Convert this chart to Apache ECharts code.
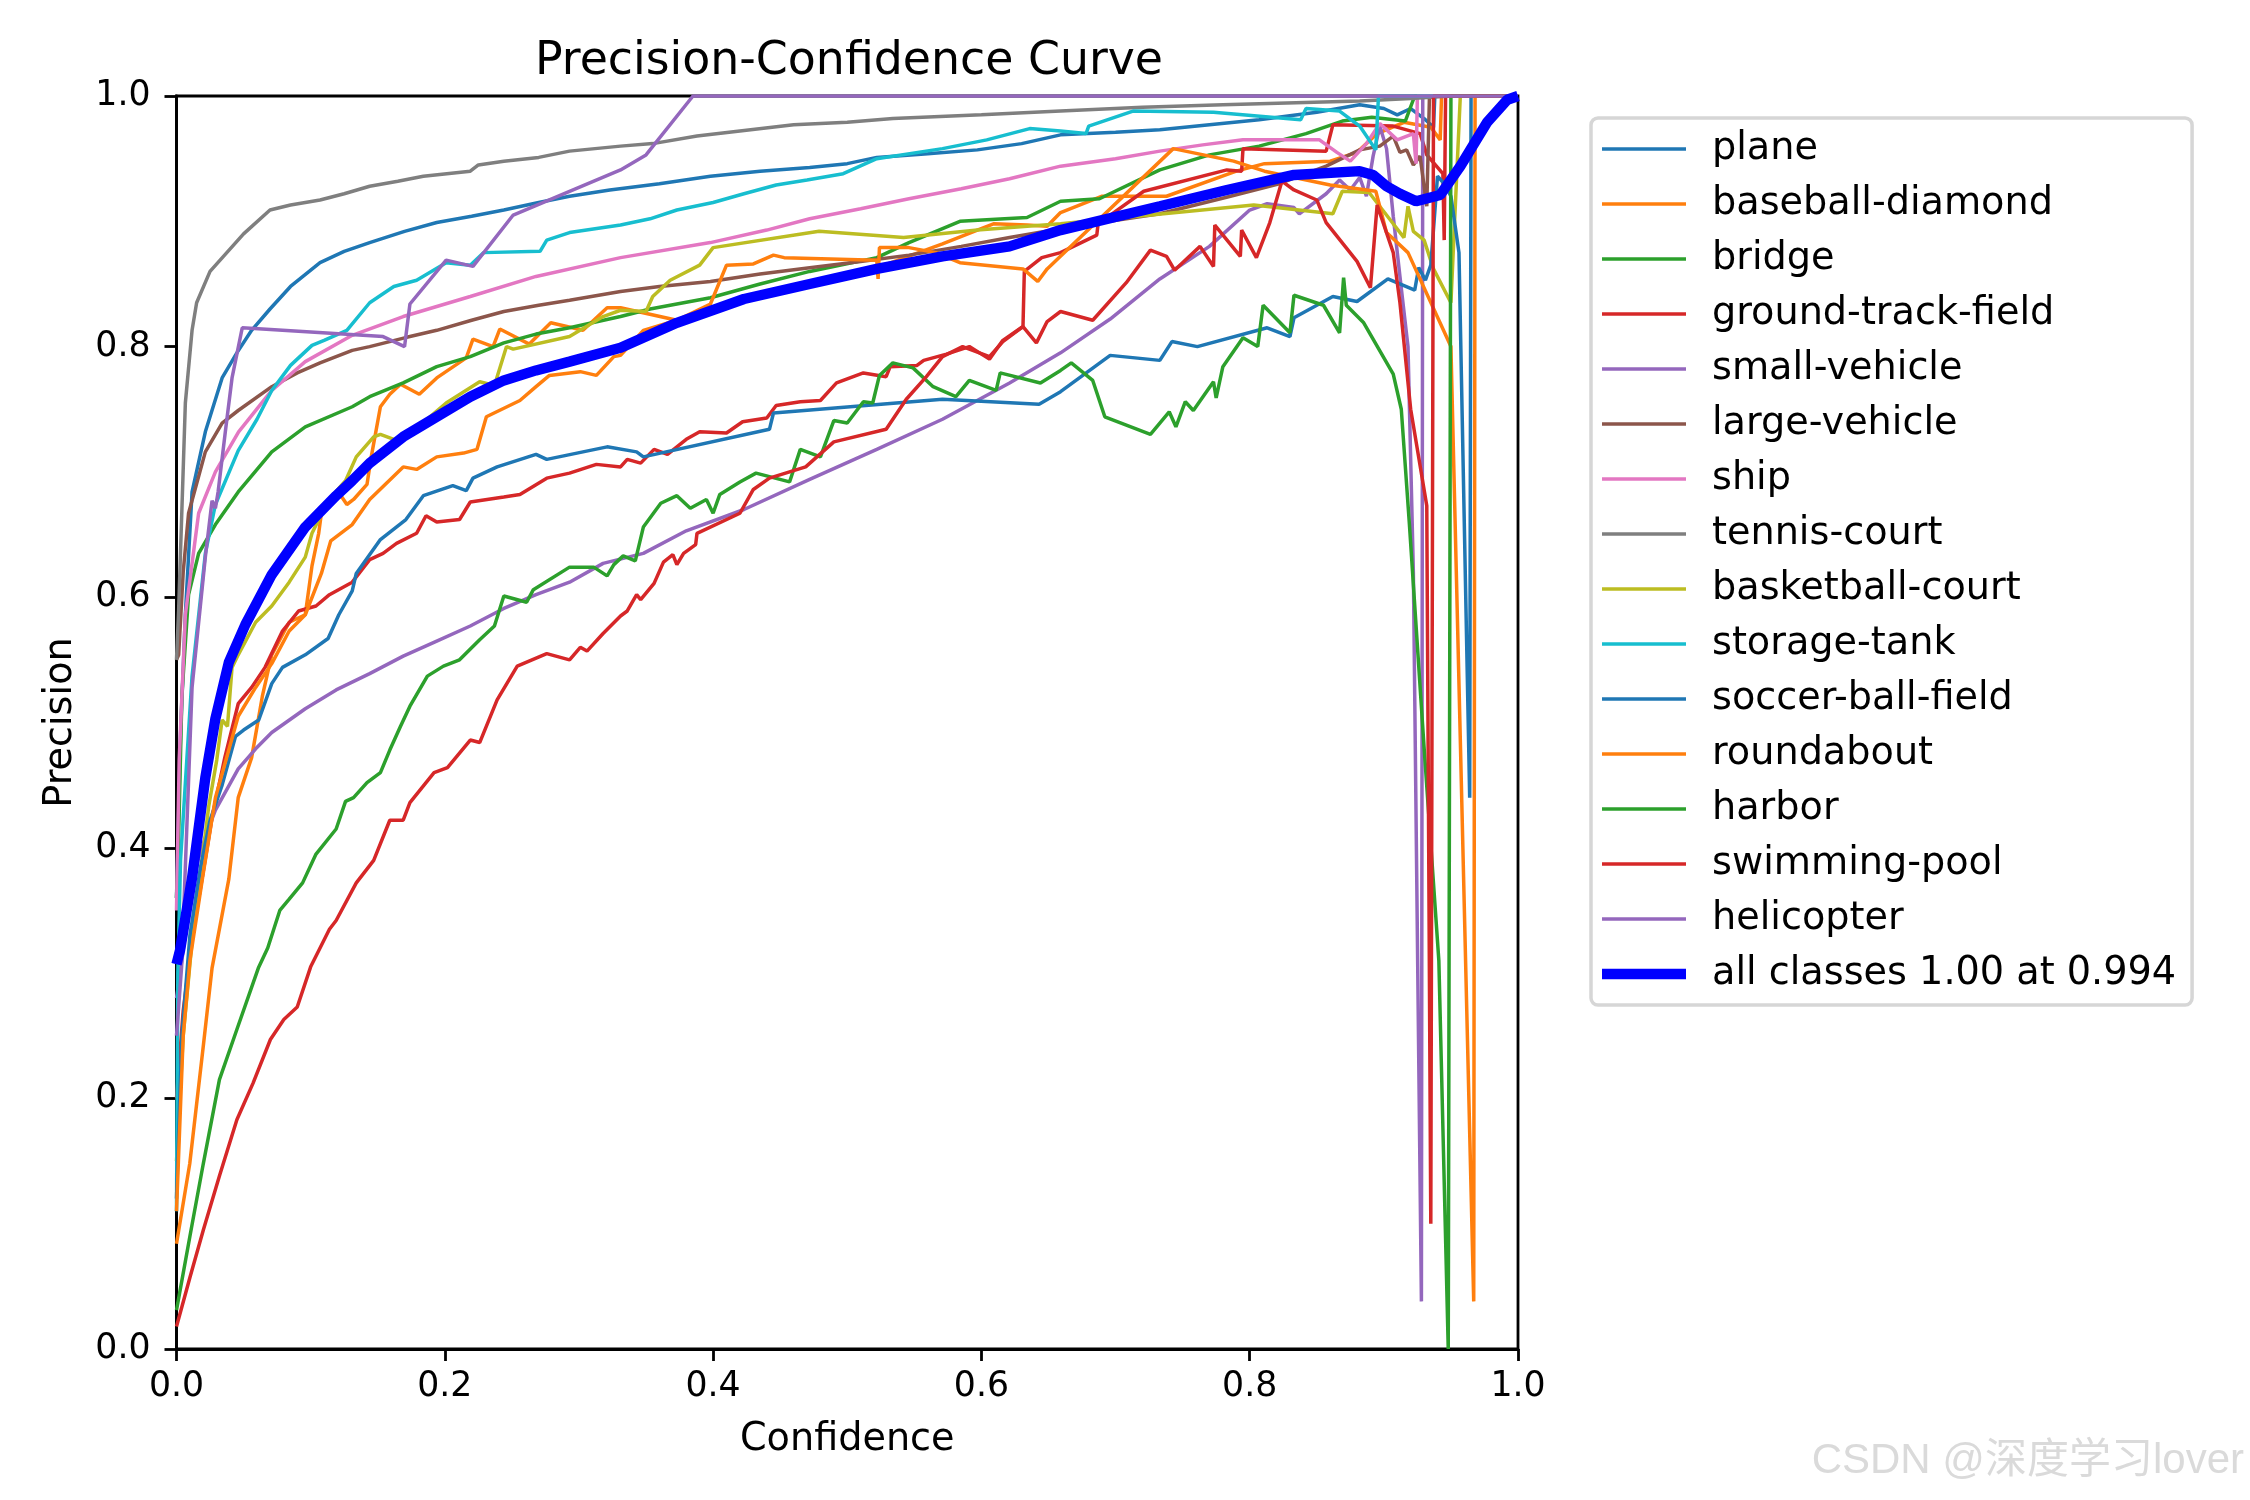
<!DOCTYPE html>
<html>
<head>
<meta charset="utf-8">
<script src="https://cdn.jsdelivr.net/npm/echarts@6/dist/echarts.min.js"></script>
<style>html,body{margin:0;padding:0;background:#fff}#c{width:2250px;height:1500px}</style>
</head>
<body>
<div id="c"></div>
<script>
const classNames = ['plane','baseball-diamond','bridge','ground-track-field','small-vehicle','large-vehicle','ship','tennis-court','basketball-court','storage-tank','soccer-ball-field','roundabout','harbor','swimming-pool','helicopter'];
const allClassesLabel = 'all classes 1.00 at 0.994';
const xTicks = [0, 0.2, 0.4, 0.6, 0.8, 1.0];
const yTicks = [0, 0.2, 0.4, 0.6, 0.8, 1.0];

const plane = [[0,0.36],[0.003,0.49],[0.0066,0.586],[0.0116,0.684],[0.0215,0.732],[0.034,0.775],[0.045,0.795],[0.056,0.813],[0.0697,0.830],[0.085,0.848],[0.107,0.867],[0.125,0.876],[0.144,0.883],[0.17,0.892],[0.194,0.899],[0.22,0.904],[0.244,0.909],[0.27,0.915],[0.293,0.920],[0.323,0.925],[0.36,0.930],[0.398,0.936],[0.435,0.940],[0.472,0.943],[0.50,0.946],[0.522,0.951],[0.56,0.954],[0.597,0.957],[0.63,0.962],[0.659,0.969],[0.70,0.971],[0.733,0.973],[0.77,0.977],[0.807,0.981],[0.85,0.987],[0.882,0.993],[0.90,0.99],[0.91,0.985],[0.92,0.99],[0.93,0.982],[0.937,0.975],[0.938,1.0],[1,1]];
const baseballDiamond = [[0,0.084],[0.0099,0.148],[0.020,0.242],[0.0265,0.304],[0.039,0.375],[0.046,0.440],[0.056,0.472],[0.064,0.521],[0.071,0.554],[0.084,0.580],[0.096,0.586],[0.101,0.625],[0.106,0.651],[0.108,0.667],[0.122,0.682],[0.127,0.674],[0.132,0.678],[0.142,0.690],[0.145,0.711],[0.152,0.752],[0.159,0.762],[0.167,0.770],[0.181,0.762],[0.194,0.775],[0.216,0.791],[0.221,0.806],[0.236,0.800],[0.241,0.814],[0.263,0.802],[0.279,0.819],[0.303,0.813],[0.321,0.831],[0.331,0.831],[0.373,0.821],[0.40,0.83],[0.45,0.845],[0.52,0.862],[0.571,0.882],[0.597,0.893],[0.609,0.898],[0.634,0.897],[0.649,0.896],[0.659,0.907],[0.69,0.92],[0.738,0.920],[0.790,0.94],[0.811,0.946],[0.86,0.948],[0.88,0.955],[0.895,0.97],[0.915,0.979],[0.935,0.975],[0.942,0.965],[0.943,1.0],[1,1]];
const bridge = [[0,0.36],[0.0014,0.40],[0.004,0.521],[0.009,0.602],[0.0165,0.635],[0.029,0.658],[0.046,0.684],[0.071,0.716],[0.096,0.736],[0.131,0.752],[0.144,0.760],[0.169,0.771],[0.194,0.784],[0.219,0.792],[0.244,0.803],[0.268,0.810],[0.293,0.815],[0.331,0.824],[0.353,0.830],[0.398,0.839],[0.435,0.850],[0.472,0.860],[0.522,0.871],[0.546,0.883],[0.584,0.900],[0.634,0.903],[0.659,0.916],[0.688,0.918],[0.733,0.941],[0.770,0.953],[0.807,0.960],[0.842,0.970],[0.869,0.980],[0.891,0.983],[0.916,0.980],[0.923,1.0],[1,1]];
const groundTrackField = [[0,0.2],[0.005,0.27],[0.012,0.33],[0.019,0.375],[0.0265,0.424],[0.036,0.472],[0.046,0.515],[0.056,0.528],[0.066,0.544],[0.079,0.573],[0.091,0.589],[0.104,0.593],[0.114,0.602],[0.131,0.612],[0.144,0.630],[0.154,0.635],[0.164,0.643],[0.179,0.651],[0.186,0.665],[0.194,0.660],[0.211,0.662],[0.219,0.676],[0.244,0.680],[0.256,0.682],[0.276,0.695],[0.293,0.699],[0.313,0.706],[0.331,0.704],[0.336,0.710],[0.346,0.707],[0.356,0.718],[0.366,0.714],[0.380,0.726],[0.390,0.732],[0.410,0.731],[0.422,0.740],[0.440,0.743],[0.447,0.753],[0.465,0.756],[0.480,0.757],[0.492,0.771],[0.512,0.779],[0.529,0.776],[0.532,0.784],[0.552,0.785],[0.557,0.789],[0.574,0.794],[0.591,0.800],[0.606,0.790],[0.616,0.805],[0.631,0.816],[0.632,0.860],[0.645,0.871],[0.659,0.875],[0.686,0.889],[0.687,0.898],[0.721,0.924],[0.783,0.941],[0.794,0.940],[0.795,0.958],[0.857,0.956],[0.862,0.977],[0.907,0.976],[0.927,0.970],[0.932,0.953],[0.944,0.938],[0.945,0.885],[0.946,1.0],[1,1]];
const smallVehicle = [[0,0.28],[0.004,0.31],[0.010,0.36],[0.016,0.39],[0.0226,0.412],[0.029,0.430],[0.046,0.463],[0.059,0.479],[0.071,0.492],[0.096,0.511],[0.119,0.526],[0.144,0.539],[0.169,0.553],[0.194,0.565],[0.219,0.577],[0.244,0.591],[0.268,0.602],[0.293,0.612],[0.318,0.627],[0.348,0.635],[0.380,0.653],[0.423,0.670],[0.472,0.694],[0.522,0.718],[0.571,0.742],[0.621,0.771],[0.659,0.795],[0.696,0.822],[0.733,0.854],[0.770,0.880],[0.800,0.909],[0.813,0.914],[0.833,0.911],[0.837,0.906],[0.857,0.922],[0.867,0.933],[0.875,0.925],[0.882,0.935],[0.887,0.920],[0.892,0.952],[0.897,0.976],[0.902,0.958],[0.907,0.904],[0.912,0.856],[0.918,0.80],[0.922,0.62],[0.928,0.038],[0.929,1.0],[1,1]];
const largeVehicle = [[0,0.55],[0.0016,0.554],[0.005,0.62],[0.009,0.667],[0.0215,0.716],[0.034,0.739],[0.046,0.749],[0.071,0.768],[0.09,0.779],[0.107,0.787],[0.131,0.797],[0.144,0.800],[0.17,0.807],[0.194,0.813],[0.22,0.821],[0.244,0.828],[0.27,0.833],[0.293,0.837],[0.331,0.844],[0.36,0.848],[0.398,0.852],[0.435,0.858],[0.472,0.863],[0.51,0.868],[0.546,0.873],[0.585,0.880],[0.621,0.887],[0.659,0.894],[0.683,0.898],[0.733,0.906],[0.782,0.919],[0.822,0.930],[0.857,0.944],[0.882,0.957],[0.897,0.960],[0.907,0.968],[0.912,0.955],[0.917,0.957],[0.922,0.945],[0.927,0.952],[0.932,0.912],[0.934,1.0],[1,1]];
const ship = [[0,0.35],[0.002,0.47],[0.0066,0.586],[0.0165,0.667],[0.029,0.700],[0.0463,0.732],[0.071,0.765],[0.096,0.788],[0.131,0.809],[0.169,0.824],[0.219,0.840],[0.268,0.856],[0.331,0.871],[0.398,0.883],[0.44,0.893],[0.472,0.902],[0.51,0.91],[0.546,0.918],[0.585,0.926],[0.621,0.934],[0.659,0.944],[0.70,0.950],[0.733,0.956],[0.765,0.961],[0.795,0.965],[0.852,0.965],[0.865,0.955],[0.875,0.948],[0.887,0.962],[0.897,0.978],[0.91,0.965],[0.922,0.970],[0.924,0.946],[0.925,1.0],[1,1]];
const tennisCourt = [[0,0.55],[0.0016,0.59],[0.0066,0.755],[0.0116,0.813],[0.015,0.835],[0.025,0.860],[0.035,0.872],[0.05,0.89],[0.0697,0.909],[0.085,0.913],[0.107,0.917],[0.125,0.922],[0.144,0.928],[0.165,0.932],[0.184,0.936],[0.219,0.940],[0.225,0.945],[0.244,0.948],[0.27,0.951],[0.293,0.956],[0.331,0.960],[0.355,0.962],[0.388,0.968],[0.42,0.972],[0.460,0.977],[0.50,0.979],[0.534,0.982],[0.6,0.985],[0.659,0.988],[0.72,0.991],[0.78,0.993],[0.882,0.996],[0.92,0.998],[0.95,1.0],[1,1]];
const basketballCourt = [[0,0.15],[0.005,0.25],[0.012,0.33],[0.018,0.38],[0.024,0.433],[0.030,0.47],[0.034,0.502],[0.038,0.497],[0.0414,0.544],[0.046,0.554],[0.059,0.580],[0.071,0.593],[0.084,0.612],[0.096,0.632],[0.101,0.651],[0.113,0.677],[0.126,0.693],[0.134,0.712],[0.147,0.728],[0.152,0.730],[0.167,0.724],[0.201,0.755],[0.226,0.772],[0.237,0.769],[0.246,0.800],[0.251,0.798],[0.293,0.808],[0.318,0.824],[0.331,0.829],[0.350,0.828],[0.355,0.840],[0.368,0.853],[0.390,0.865],[0.400,0.879],[0.479,0.892],[0.542,0.887],[0.597,0.893],[0.659,0.898],[0.803,0.913],[0.862,0.906],[0.869,0.924],[0.889,0.923],[0.907,0.898],[0.915,0.887],[0.918,0.912],[0.922,0.892],[0.930,0.885],[0.937,0.862],[0.950,0.835],[0.957,1.0],[1,1]];
const storageTank = [[0,0.11],[0.001,0.30],[0.003,0.39],[0.0116,0.537],[0.0215,0.635],[0.029,0.674],[0.046,0.717],[0.060,0.742],[0.071,0.765],[0.085,0.785],[0.101,0.801],[0.110,0.805],[0.127,0.813],[0.144,0.835],[0.162,0.848],[0.179,0.853],[0.201,0.867],[0.219,0.865],[0.229,0.875],[0.271,0.876],[0.276,0.885],[0.293,0.891],[0.331,0.897],[0.353,0.902],[0.373,0.909],[0.40,0.915],[0.423,0.922],[0.447,0.929],[0.47,0.933],[0.497,0.938],[0.522,0.950],[0.571,0.958],[0.604,0.965],[0.636,0.974],[0.659,0.972],[0.678,0.970],[0.680,0.976],[0.713,0.988],[0.773,0.987],[0.838,0.981],[0.842,0.990],[0.867,0.988],[0.882,0.976],[0.894,0.957],[0.896,1.0],[1,1]];
const soccerBallField = [[0,0.12],[0.004,0.25],[0.01,0.33],[0.018,0.385],[0.025,0.422],[0.034,0.450],[0.044,0.489],[0.050,0.494],[0.0613,0.502],[0.071,0.531],[0.079,0.544],[0.096,0.554],[0.113,0.567],[0.121,0.586],[0.131,0.605],[0.134,0.619],[0.152,0.646],[0.171,0.662],[0.184,0.681],[0.206,0.689],[0.216,0.685],[0.221,0.695],[0.239,0.704],[0.268,0.714],[0.276,0.710],[0.321,0.720],[0.343,0.716],[0.348,0.712],[0.442,0.734],[0.445,0.747],[0.571,0.758],[0.643,0.754],[0.659,0.764],[0.696,0.793],[0.733,0.789],[0.742,0.804],[0.761,0.800],[0.813,0.815],[0.830,0.808],[0.833,0.823],[0.862,0.840],[0.880,0.836],[0.903,0.854],[0.923,0.845],[0.926,0.863],[0.931,0.853],[0.935,0.865],[0.940,0.936],[0.945,0.93],[0.950,0.92],[0.956,0.875],[0.964,0.44],[0.965,1.0],[1,1]];
const roundabout = [[0,0.11],[0.005,0.25],[0.010,0.31],[0.020,0.38],[0.029,0.440],[0.046,0.505],[0.059,0.528],[0.071,0.547],[0.084,0.573],[0.096,0.586],[0.108,0.619],[0.115,0.645],[0.131,0.658],[0.144,0.678],[0.169,0.704],[0.179,0.702],[0.194,0.712],[0.214,0.715],[0.224,0.718],[0.231,0.744],[0.256,0.757],[0.268,0.768],[0.278,0.777],[0.301,0.780],[0.313,0.777],[0.326,0.792],[0.331,0.793],[0.348,0.813],[0.373,0.821],[0.398,0.834],[0.410,0.865],[0.430,0.866],[0.445,0.873],[0.453,0.871],[0.522,0.869],[0.523,0.854],[0.524,0.879],[0.546,0.879],[0.566,0.875],[0.584,0.867],[0.631,0.862],[0.642,0.852],[0.649,0.862],[0.743,0.958],[0.788,0.948],[0.811,0.940],[0.860,0.929],[0.894,0.924],[0.902,0.891],[0.918,0.875],[0.950,0.800],[0.967,0.038],[0.968,1.0],[1,1]];
const harbor = [[0,0.031],[0.010,0.09],[0.020,0.148],[0.032,0.215],[0.045,0.255],[0.061,0.304],[0.068,0.32],[0.077,0.350],[0.084,0.359],[0.094,0.372],[0.104,0.395],[0.119,0.415],[0.126,0.437],[0.132,0.440],[0.142,0.452],[0.152,0.460],[0.159,0.478],[0.167,0.497],[0.174,0.513],[0.187,0.537],[0.199,0.545],[0.211,0.550],[0.226,0.566],[0.237,0.577],[0.244,0.601],[0.261,0.596],[0.266,0.606],[0.293,0.624],[0.311,0.624],[0.321,0.617],[0.326,0.626],[0.333,0.633],[0.342,0.629],[0.348,0.656],[0.361,0.675],[0.373,0.681],[0.383,0.671],[0.395,0.678],[0.400,0.667],[0.405,0.682],[0.420,0.692],[0.432,0.699],[0.457,0.692],[0.465,0.718],[0.480,0.712],[0.490,0.741],[0.500,0.739],[0.512,0.756],[0.519,0.755],[0.524,0.777],[0.534,0.787],[0.549,0.783],[0.564,0.768],[0.581,0.760],[0.591,0.773],[0.611,0.765],[0.614,0.779],[0.644,0.771],[0.659,0.781],[0.667,0.787],[0.683,0.773],[0.692,0.744],[0.726,0.730],[0.740,0.748],[0.745,0.736],[0.752,0.756],[0.758,0.749],[0.773,0.772],[0.775,0.759],[0.780,0.784],[0.795,0.807],[0.806,0.800],[0.810,0.833],[0.830,0.811],[0.833,0.841],[0.855,0.833],[0.867,0.811],[0.870,0.855],[0.872,0.833],[0.885,0.819],[0.907,0.778],[0.913,0.750],[0.919,0.659],[0.930,0.48],[0.941,0.31],[0.948,0.0],[0.950,1.0],[1,1]];
const swimmingPool = [[0,0.018],[0.010,0.057],[0.020,0.095],[0.032,0.138],[0.045,0.183],[0.057,0.212],[0.070,0.247],[0.080,0.263],[0.090,0.273],[0.100,0.305],[0.114,0.335],[0.119,0.342],[0.134,0.372],[0.147,0.390],[0.159,0.422],[0.169,0.422],[0.174,0.436],[0.192,0.460],[0.202,0.464],[0.219,0.486],[0.226,0.484],[0.239,0.518],[0.254,0.545],[0.276,0.555],[0.293,0.550],[0.301,0.560],[0.306,0.557],[0.318,0.571],[0.331,0.585],[0.336,0.589],[0.343,0.602],[0.346,0.598],[0.356,0.611],[0.363,0.628],[0.370,0.634],[0.373,0.626],[0.378,0.635],[0.387,0.642],[0.388,0.651],[0.420,0.667],[0.430,0.686],[0.442,0.695],[0.469,0.704],[0.490,0.724],[0.529,0.734],[0.544,0.758],[0.559,0.776],[0.571,0.792],[0.586,0.800],[0.606,0.792],[0.616,0.804],[0.631,0.816],[0.641,0.803],[0.649,0.820],[0.659,0.828],[0.683,0.821],[0.708,0.851],[0.726,0.877],[0.738,0.872],[0.744,0.861],[0.763,0.880],[0.773,0.864],[0.774,0.897],[0.793,0.872],[0.794,0.893],[0.805,0.871],[0.815,0.899],[0.824,0.932],[0.833,0.925],[0.850,0.917],[0.857,0.899],[0.880,0.868],[0.890,0.847],[0.895,0.913],[0.907,0.875],[0.912,0.835],[0.920,0.750],[0.932,0.673],[0.935,0.10],[0.937,1.0],[1,1]];
const helicopter = [[0,0.25],[0.0038,0.305],[0.0116,0.528],[0.0215,0.632],[0.0265,0.677],[0.029,0.671],[0.031,0.684],[0.0364,0.732],[0.0414,0.775],[0.049,0.815],[0.154,0.808],[0.170,0.800],[0.174,0.834],[0.201,0.869],[0.221,0.864],[0.251,0.905],[0.331,0.941],[0.350,0.953],[0.385,1.0],[1,1]];
const allClasses = [[0,0.307],[0.0026,0.318],[0.0116,0.376],[0.0215,0.456],[0.029,0.503],[0.039,0.548],[0.0513,0.578],[0.071,0.618],[0.096,0.656],[0.119,0.681],[0.131,0.693],[0.144,0.707],[0.169,0.728],[0.194,0.744],[0.219,0.760],[0.244,0.773],[0.268,0.781],[0.293,0.788],[0.331,0.799],[0.373,0.819],[0.423,0.838],[0.472,0.850],[0.522,0.862],[0.571,0.872],[0.621,0.880],[0.659,0.893],[0.733,0.912],[0.783,0.925],[0.833,0.937],[0.882,0.940],[0.892,0.937],[0.902,0.928],[0.912,0.922],[0.924,0.916],[0.942,0.921],[0.957,0.944],[0.977,0.979],[0.992,0.997],[1.0,1.0]];

const classData = [plane, baseballDiamond, bridge, groundTrackField, smallVehicle, largeVehicle, ship, tennisCourt, basketballCourt, storageTank, soccerBallField, roundabout, harbor, swimmingPool, helicopter];
const tab10 = ['#1f77b4','#ff7f0e','#2ca02c','#d62728','#9467bd','#8c564b','#e377c2','#7f7f7f','#bcbd22','#17becf'];

const FONT = 'DejaVu Sans';
const TICK_FS = 34.7;
const LABEL_FS = 38.2;
const TITLE_FS = 45.8;
const THIN = 3.5, THICK = 10.4;

const series = classData.map((d, i) => ({
  name: classNames[i],
  type: 'line',
  data: d,
  symbol: 'none',
  showSymbol: false,
  lineStyle: { width: THIN, color: tab10[i % 10] },
  itemStyle: { color: tab10[i % 10], borderWidth: 0 },
  emphasis: { disabled: true },
  clip: true,
  animation: false
}));
series.push({
  name: allClassesLabel,
  type: 'line',
  data: allClasses,
  symbol: 'none',
  showSymbol: false,
  lineStyle: { width: THICK, color: '#0000ff' },
  itemStyle: { color: '#0000ff', borderWidth: 0 },
  emphasis: { disabled: true },
  clip: true,
  animation: false
});

const legendData = classNames.map(n => ({ name: n, icon: 'path://M0,0H80V' + THIN + 'H0Z' }))
  .concat([{ name: allClassesLabel, icon: 'path://M0,0H84V' + THICK + 'H0Z' }]);

const chart = echarts.init(document.getElementById('c'), null, { renderer: 'canvas' });
chart.setOption({
  animation: false,
  backgroundColor: '#ffffff',
  title: {
    text: 'Precision-Confidence Curve',
    left: 530, top: 34,
    textStyle: { fontFamily: FONT, fontSize: TITLE_FS, fontWeight: 'normal', color: '#000' }
  },
  grid: {
    left: 176.5, right: 732, top: 96, bottom: 151,
    show: true, borderColor: '#000', borderWidth: 2.8, backgroundColor: 'transparent',
    containLabel: false, outerBoundsMode: 'none'
  },
  legend: {
    orient: 'vertical', left: 1591, top: 118,
    data: legendData,
    itemWidth: 84, itemHeight: 20, itemGap: 15,
    padding: [11, 16, 11, 11],
    backgroundColor: '#ffffff', borderColor: '#d6d6d6', borderWidth: 3.5, borderRadius: 7,
    selectedMode: false,
    itemStyle: { borderWidth: 0 },
    textStyle: { fontFamily: FONT, fontSize: LABEL_FS, color: '#000', lineHeight: 40, padding: [0, 0, 0, 21] }
  },
  xAxis: {
    type: 'value', min: 0, max: 1, interval: 0.2,
    name: 'Confidence', nameLocation: 'middle', nameGap: 72,
    nameTextStyle: { fontFamily: FONT, fontSize: LABEL_FS, color: '#000' },
    axisLine: { show: true, onZero: false, lineStyle: { color: '#000', width: 2.8 } },
    axisTick: { show: true, inside: false, length: 12, lineStyle: { color: '#000', width: 2.8 } },
    axisLabel: { fontFamily: FONT, fontSize: TICK_FS, color: '#000', margin: 20, formatter: v => xTicks.includes(+v.toFixed(1)) ? v.toFixed(1) : '' },
    splitLine: { show: false }
  },
  yAxis: {
    type: 'value', min: 0, max: 1, interval: 0.2,
    name: 'Precision', nameLocation: 'middle', nameGap: 96, nameRotate: 90,
    nameTextStyle: { fontFamily: FONT, fontSize: LABEL_FS, color: '#000' },
    axisLine: { show: true, onZero: false, lineStyle: { color: '#000', width: 2.8 } },
    axisTick: { show: true, inside: false, length: 12, lineStyle: { color: '#000', width: 2.8 } },
    axisLabel: { fontFamily: FONT, fontSize: TICK_FS, color: '#000', margin: 26, formatter: v => yTicks.includes(+v.toFixed(1)) ? v.toFixed(1) : '' },
    splitLine: { show: false }
  },
  graphic: [{
    type: 'text', right: 6, top: 1440,
    style: { text: 'CSDN @深度学习lover', font: '42px "Liberation Sans", "Noto Sans CJK SC", sans-serif', fill: '#dadada' }
  }],
  series: series
});
</script>
</body>
</html>
